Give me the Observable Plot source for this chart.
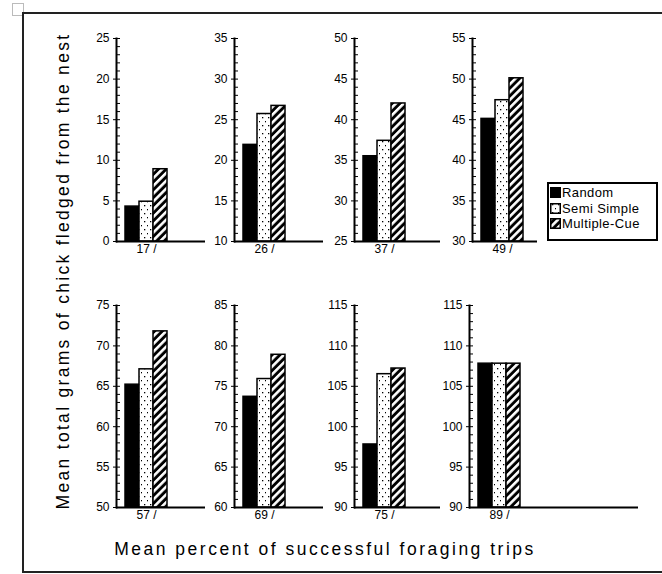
<!DOCTYPE html>
<html><head><meta charset="utf-8">
<script src="https://cdn.jsdelivr.net/npm/d3@7"></script>
<script src="https://cdn.jsdelivr.net/npm/@observablehq/plot@0.6"></script>
<style>
body{margin:0;background:#fff;}
#wrap{position:relative;width:662px;height:574px;overflow:hidden;background:#fff;font-family:"Liberation Sans",Arial,sans-serif;color:#000;}
.panel{position:absolute;}
#frame{position:absolute;left:22px;top:12px;width:660px;height:557px;border:2px solid #222;}
#corner{position:absolute;left:12px;top:3px;width:10px;height:11px;border:1px solid #bbb;background:#fff;}
#ytitle{position:absolute;left:63px;top:271px;transform:translate(-50%,-50%) rotate(-90deg);white-space:nowrap;font-size:17.5px;letter-spacing:2.3px;}
#xtitle{position:absolute;left:325px;top:549px;transform:translate(-50%,-50%);white-space:nowrap;font-size:17.5px;letter-spacing:2.5px;}
#legend{position:absolute;left:547px;top:182px;width:107px;height:54px;border:2px solid #000;background:#fff;font-size:13px;line-height:15px;padding-top:1px;}
#legend .item{display:flex;align-items:center;height:15.5px;white-space:nowrap;letter-spacing:0.4px;}
#legend svg{margin:0 1px 0 1px;flex:none;}
</style></head><body>
<div id="wrap">
<svg width="0" height="0" style="position:absolute">
<defs>
<pattern id="dots" width="6" height="8" patternUnits="userSpaceOnUse">
<rect width="6" height="8" fill="white"/>
<rect x="2" y="1" width="1.3" height="1.3" fill="black"/>
<rect x="5" y="5" width="1.3" height="1.3" fill="black"/>
</pattern>
<pattern id="hatch" width="5.5" height="5.5" patternUnits="userSpaceOnUse" patternTransform="rotate(45)">
<rect width="5.5" height="5.5" fill="black"/>
<rect width="2.6" height="5.5" fill="white"/>
</pattern>
</defs></svg>
<div id="corner"></div>
<div id="frame"></div>
<div id="ytitle">Mean total grams of chick fledged from the nest</div>
<div id="xtitle">Mean percent of successful foraging trips</div>
<div id="legend"></div>
</div>
<script>
// ---- data ----
const series = ["Random", "Semi-Simple", "Multiple-Cue"];
const categories = ["17", "26", "37", "49", "57", "69", "75", "89"];
const categoryLabels = ["17 /", "26 /", "37 /", "49 /", "57 /", "69 /", "75 /", "89 /"];
const random      = [4.3, 21.9, 35.5, 45.1, 65.2, 73.7, 97.8, 107.8];
const semiSimple  = [4.9, 25.7, 37.4, 47.4, 67.1, 75.9, 106.5, 107.8];
const multipleCue = [8.9, 26.7, 42.0, 50.1, 71.8, 78.9, 107.2, 107.8];
const axisMin = [0, 10, 25, 30, 50, 60, 90, 90];
const axisMax = [25, 35, 50, 55, 75, 85, 115, 115];
const legendLabels = ["Random", "Semi Simple", "Multiple-Cue"];

// ---- layout ----
const axisX   = [116, 234, 354, 472, 116, 234, 354, 469];
const axisEnd = [205, 323, 440, 537, 205, 323, 440, 638];
const rowTop  = [38, 305];
const rowBase = [241, 507];
const ML = 40, MR = 2, MT = 10, MB = 26;
const fills = ["black", "url(#dots)", "url(#hatch)"];
const seriesValues = [random, semiSimple, multipleCue];
const wrap = document.getElementById("wrap");

categories.forEach((cat, i) => {
  const row = i < 4 ? 0 : 1;
  const frameW = axisEnd[i] - axisX[i];
  const frameH = rowBase[row] - rowTop[row];
  const rows = series.map((s, j) => ({series: s, value: seriesValues[j][i]}));
  const chart = Plot.plot({
    width: ML + frameW + MR,
    height: MT + frameH + MB,
    marginLeft: ML, marginRight: MR, marginTop: MT, marginBottom: MB,
    style: {background: "transparent", fontFamily: "'Liberation Sans', Arial, sans-serif", fontSize: "12px", color: "black", overflow: "visible"},
    x: {type: "band", domain: series, range: [ML + 8, ML + 52], padding: 0, axis: null},
    y: {domain: [axisMin[i], axisMax[i]], axis: null},
    marks: [
      ...series.map((s, j) => Plot.barY(rows.filter(d => d.series === s), {
        x: "series", y1: () => axisMin[i], y2: "value",
        fill: fills[j], stroke: "black", strokeWidth: 1.5
      })),
      Plot.ruleY(d3.range(axisMin[i], axisMax[i] + 1), {insetRight: frameW - 4, stroke: "black"}),
      Plot.axisY(d3.range(axisMin[i], axisMax[i] + 1, 5), {tickSize: 3, tickPadding: 4, fontSize: 12, label: null}),
      Plot.ruleY([axisMin[i]], {strokeWidth: 2}),
      Plot.frame({anchor: "left", strokeWidth: 2}),
      Plot.text([categoryLabels[i]], {x: () => series[1], frameAnchor: "bottom", dy: 11, fontSize: 12})
    ]
  });
  chart.classList.add("panel");
  chart.style.left = (axisX[i] - ML) + "px";
  chart.style.top = (rowTop[row] - MT) + "px";
  wrap.appendChild(chart);
});

// ---- legend ----
const legend = document.getElementById("legend");
legendLabels.forEach((lab, j) => {
  const item = document.createElement("div");
  item.className = "item";
  item.innerHTML = `<svg width="11" height="11"><rect x="0.75" y="0.75" width="9.5" height="9.5" fill="${fills[j]}" stroke="black" stroke-width="1.5"/></svg><span>${lab}</span>`;
  legend.appendChild(item);
});
</script>
</body></html>
